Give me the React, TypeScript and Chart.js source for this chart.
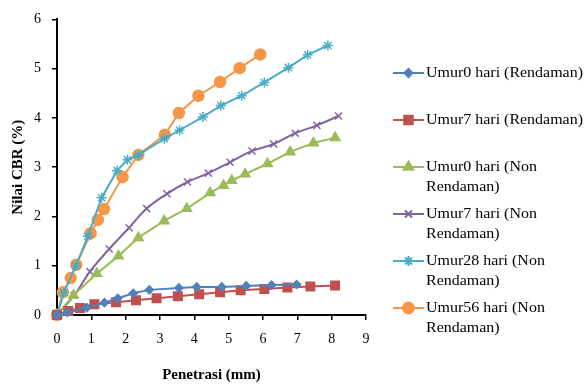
import React, { useEffect, useRef } from "react";
import { Chart, registerables } from "chart.js";
import { drawPoint } from "chart.js/helpers";

Chart.register(...registerables);

// ---- Data ----
const seriesNames = [
  ["Umur0 hari (Rendaman)"],
  ["Umur7 hari (Rendaman)"],
  ["Umur0 hari (Non", "Rendaman)"],
  ["Umur7 hari (Non", "Rendaman)"],
  ["Umur28 hari (Non", "Rendaman)"],
  ["Umur56 hari (Non", "Rendaman)"],
];

const umur0RendX = [0, 0.3, 0.87, 1.38, 1.77, 2.22, 2.69, 3.55, 4.07, 4.8, 5.51, 6.25, 6.98];
const umur0RendY = [0, 0.05, 0.15, 0.25, 0.34, 0.44, 0.51, 0.55, 0.57, 0.57, 0.59, 0.61, 0.62];

const umur7RendX = [0, 0.33, 0.67, 1.09, 1.72, 2.3, 2.9, 3.52, 4.14, 4.75, 5.35, 6.04, 6.71, 7.38, 8.1];
const umur7RendY = [0, 0.08, 0.14, 0.22, 0.26, 0.3, 0.34, 0.38, 0.42, 0.46, 0.5, 0.53, 0.56, 0.58, 0.6];

const umur0NonX = [0, 0.48, 1.16, 1.79, 2.37, 3.12, 3.78, 4.46, 4.85, 5.09, 5.48, 6.13, 6.79, 7.47, 8.1];
const umur0NonY = [0, 0.4, 0.84, 1.2, 1.57, 1.91, 2.16, 2.48, 2.63, 2.73, 2.86, 3.07, 3.31, 3.49, 3.6];

const umur7NonX = [0, 0.5, 0.96, 1.52, 2.1, 2.61, 3.2, 3.8, 4.41, 5.04, 5.68, 6.31, 6.94, 7.57, 8.2];
const umur7NonY = [0, 0.4, 0.88, 1.34, 1.77, 2.16, 2.46, 2.7, 2.88, 3.1, 3.33, 3.47, 3.69, 3.85, 4.04];

const umur28NonX = [0, 0.2, 0.55, 0.9, 1.3, 1.75, 2.05, 2.37, 3.13, 3.57, 4.25, 4.77, 5.38, 6.04, 6.74, 7.3, 7.89];
const umur28NonY = [0, 0.45, 1.0, 1.6, 2.38, 2.93, 3.15, 3.25, 3.58, 3.75, 4.02, 4.25, 4.45, 4.72, 5.02, 5.28, 5.47];

const umur56NonX = [0, 0.17, 0.4, 0.56, 0.98, 1.19, 1.37, 1.91, 2.37, 3.14, 3.55, 4.12, 4.75, 5.32, 5.92];
const umur56NonY = [0, 0.46, 0.75, 1.02, 1.66, 1.93, 2.15, 2.8, 3.25, 3.66, 4.1, 4.45, 4.73, 5.01, 5.29];

const xTicks = [0, 1, 2, 3, 4, 5, 6, 7, 8, 9];
const yTicks = [0, 1, 2, 3, 4, 5, 6];

const colors = ["#4F81BD", "#C0504D", "#9BBB59", "#8064A2", "#4BACC6", "#F79646"];
const pointStyles = ["rectRot", "rect", "triangle", "crossRot", "star", "circle"];
const pointRadii = [4, 6, 5.5, 5, 5, 5.5];
const tensions = [0, 0, 0, 0.4, 0, 0];

const pairs = (xs: number[], ys: number[]) => xs.map((x, i) => ({ x, y: ys[i] }));

const seriesData = [
  pairs(umur0RendX, umur0RendY),
  pairs(umur7RendX, umur7RendY),
  pairs(umur0NonX, umur0NonY),
  pairs(umur7NonX, umur7NonY),
  pairs(umur28NonX, umur28NonY),
  pairs(umur56NonX, umur56NonY),
];

const FONT = "'Liberation Serif', 'Times New Roman', serif";

const legendPlugin = {
  id: "customLegend",
  afterDraw(chart: any) {
    const ctx = chart.ctx;
    const itemY = [73, 120, 167, 214, 261, 308];
    const lineX0 = 393;
    const lineX1 = 424;
    const textX = 426;
    ctx.save();
    ctx.font = `14px ${FONT}`;
    ctx.textBaseline = "middle";
    ctx.textAlign = "left";
    ctx.fillStyle = "#000";
    const ref = ctx.measureText("Umur0 hari (Rendaman)").width;
    const sx = 157 / ref;
    seriesNames.forEach((lines, i) => {
      const y = itemY[i];
      ctx.strokeStyle = colors[i];
      ctx.lineWidth = 2;
      ctx.beginPath();
      ctx.moveTo(lineX0, y);
      ctx.lineTo(lineX1, y);
      ctx.stroke();
      ctx.fillStyle = colors[i];
      drawPoint(
        ctx,
        { pointStyle: pointStyles[i], radius: pointRadii[i], rotation: 0, borderWidth: 1.5 } as any,
        (lineX0 + lineX1) / 2,
        y
      );
      ctx.fillStyle = "#000";
      lines.forEach((t, j) => {
        ctx.save();
        ctx.translate(textX, y + j * 20);
        ctx.scale(sx, 1);
        ctx.fillText(t, 0, 0);
        ctx.restore();
      });
    });
    ctx.restore();
  },
};

export default function App() {
  const ref = useRef<HTMLCanvasElement | null>(null);

  useEffect(() => {
    document.body.style.margin = "0";
    const canvas = ref.current;
    if (!canvas) return;
    const chart = new Chart(canvas, {
      type: "scatter",
      data: {
        datasets: seriesData.map((d, i) => ({
          label: seriesNames[i].join(" "),
          data: d,
          showLine: true,
          borderColor: colors[i],
          backgroundColor: colors[i],
          borderWidth: 2,
          pointStyle: pointStyles[i] as any,
          pointRadius: pointRadii[i],
          pointBorderColor: colors[i],
          pointBackgroundColor: colors[i],
          pointBorderWidth: 1.5,
          tension: tensions[i],
          clip: false as any,
        })),
      },
      options: {
        responsive: false,
        animation: false,
        layout: { padding: { left: 0, top: 15, right: 219, bottom: 0 } },
        plugins: {
          legend: { display: false },
          tooltip: { enabled: false },
        },
        scales: {
          x: {
            type: "linear",
            min: xTicks[0],
            max: xTicks[xTicks.length - 1],
            afterBuildTicks: (s: any) => {
              s.ticks = xTicks.map((v) => ({ value: v }));
            },
            afterFit: (s: any) => {
              s.height = 70;
            },
            ticks: {
              font: { family: FONT, size: 14 },
              color: "#000",
              padding: 11,
            },
            grid: {
              display: true,
              drawOnChartArea: false,
              drawTicks: true,
              tickLength: 5,
              color: "#000",
              lineWidth: 1.5,
            },
            border: { display: true, color: "#000", width: 2 },
            title: {
              display: true,
              text: "Penetrasi (mm)",
              font: { family: FONT, size: 15, weight: "bold" },
              color: "#000",
              padding: { top: 0, bottom: 1 },
            },
          },
          y: {
            type: "linear",
            min: yTicks[0],
            max: yTicks[yTicks.length - 1],
            afterBuildTicks: (s: any) => {
              s.ticks = yTicks.map((v) => ({ value: v }));
            },
            afterFit: (s: any) => {
              s.width = 57;
            },
            ticks: {
              font: { family: FONT, size: 14 },
              color: "#000",
              padding: 11,
            },
            grid: {
              display: true,
              drawOnChartArea: false,
              drawTicks: true,
              tickLength: 5,
              color: "#000",
              lineWidth: 1.5,
            },
            border: { display: true, color: "#000", width: 2 },
            title: {
              display: true,
              text: "Nilai CBR (%)",
              font: { family: FONT, size: 15, weight: "bold" },
              color: "#000",
              padding: { top: 9, bottom: 0 },
            },
          },
        },
      },
      plugins: [legendPlugin],
    });
    return () => chart.destroy();
  }, []);

  return <canvas ref={ref} width={585} height={385} style={{ display: "block" }} />;
}
